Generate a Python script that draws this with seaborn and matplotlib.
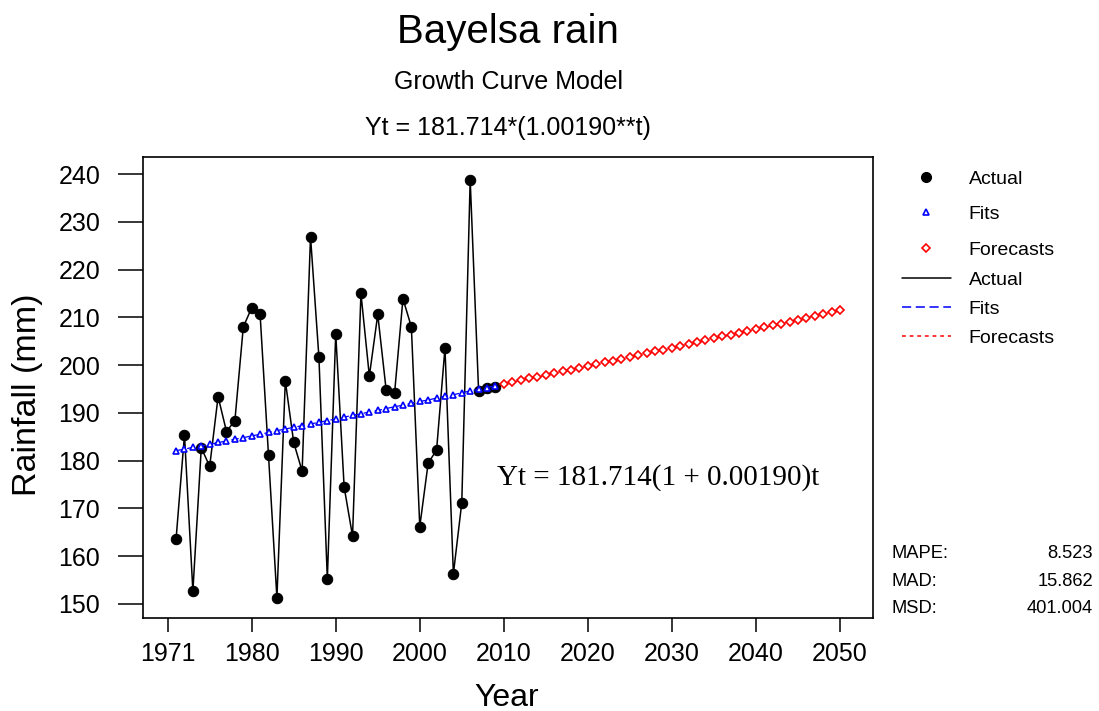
import numpy as np
import pandas as pd
import seaborn as sns
import matplotlib.pyplot as plt
from matplotlib.lines import Line2D

# rainfall (mm), t = 1..39
actual = [163.6, 185.4, 152.7, 182.7, 178.8, 193.4, 186.1, 188.4, 208.0, 212.0,
          210.6, 181.1, 151.3, 196.7, 183.8, 177.8, 226.9, 201.6, 155.2, 206.6,
          174.5, 164.2, 215.0, 197.7, 210.6, 194.8, 194.1, 213.9, 208.0, 166.2,
          179.5, 182.2, 203.6, 156.3, 171.2, 238.8, 194.6, 195.2, 195.4]

# fitted growth curve values, t = 1..39
fits = [182.1, 182.4, 182.8, 183.1, 183.4, 183.8, 184.1, 184.5, 184.8, 185.2,
        185.5, 185.9, 186.3, 186.6, 187.0, 187.3, 187.7, 188.0, 188.4, 188.7,
        189.1, 189.5, 189.8, 190.2, 190.5, 190.9, 191.3, 191.6, 192.0, 192.4,
        192.7, 193.1, 193.5, 193.8, 194.2, 194.6, 194.9, 195.3, 195.7]

# forecasts, t = 40..80
forecasts = [196.0, 196.4, 196.8, 197.2, 197.5, 197.9, 198.3, 198.7, 199.0, 199.4,
             199.8, 200.2, 200.6, 200.9, 201.3, 201.7, 202.1, 202.5, 202.9, 203.2,
             203.6, 204.0, 204.4, 204.8, 205.2, 205.6, 206.0, 206.4, 206.8, 207.1,
             207.5, 207.9, 208.3, 208.7, 209.1, 209.5, 209.9, 210.3, 210.7, 211.1,
             211.5]

tick_pos = [0, 10, 20, 30, 40, 50, 60, 70, 80]
tick_labels = ['1971', '1980', '1990', '2000', '2010', '2020', '2030', '2040', '2050']
y_ticks = [150, 160, 170, 180, 190, 200, 210, 220, 230, 240]

stats_names = ['MAPE:', 'MAD:', 'MSD:']
stats_values = ['8.523', '15.862', '401.004']

df_act = pd.DataFrame({'t': np.arange(1, len(actual) + 1), 'y': actual})
df_fit = pd.DataFrame({'t': np.arange(1, len(fits) + 1), 'y': fits})
df_fc = pd.DataFrame({'t': np.arange(len(fits) + 1, len(fits) + 1 + len(forecasts)), 'y': forecasts})

sns.set_style('white')
plt.rcParams['font.family'] = ['Liberation Sans', 'DejaVu Sans']
plt.rcParams['text.color'] = 'black'
plt.rcParams['axes.labelcolor'] = 'black'
plt.rcParams['xtick.color'] = 'black'
plt.rcParams['ytick.color'] = 'black'

W, H = 1099, 711
fig = plt.figure(figsize=(W / 100, H / 100), dpi=100)
ax = fig.add_axes([143.3 / W, 1 - 618.3 / H, (872.7 - 143.3) / W, (618.3 - 157.3) / H])

# actual series
sns.lineplot(data=df_act, x='t', y='y', ax=ax, color='black', linewidth=1.1,
             marker='o', markersize=7.5, markeredgecolor='black', zorder=3)
# fits
sns.lineplot(data=df_fit, x='t', y='y', ax=ax, color='blue', linewidth=0.9,
             linestyle=(0, (6, 3)), marker='^', markersize=5, markerfacecolor='white',
             markeredgecolor='blue', markeredgewidth=1.2, zorder=4)
# forecasts
sns.lineplot(data=df_fc, x='t', y='y', ax=ax, color='red', linewidth=0.9,
             linestyle=(0, (3, 2)), marker='D', markersize=4.5, markerfacecolor='white',
             markeredgecolor='red', markeredgewidth=1.2, zorder=4)

ax.set_xlim(-2.9, 83.9)
ax.set_ylim(147.0, 243.5)
ax.set_xticks(tick_pos)
ax.set_xticklabels(tick_labels)
ax.set_yticks(y_ticks)
ax.set_xlabel('')
ax.set_ylabel('')
for s in ax.spines.values():
    s.set_color('black')
    s.set_linewidth(1.2)
ax.tick_params(axis='x', direction='out', length=10, width=1.1, pad=7,
               labelsize=18, bottom=True)
ax.tick_params(axis='y', direction='out', length=18, width=1.1, pad=13,
               labelsize=18, left=True)

# titles
fig.text(508 / W, 1 - 42.7 / H, 'Bayelsa rain', ha='center', va='baseline', fontsize=29)
fig.text(508 / W, 1 - 89.3 / H, 'Growth Curve Model', ha='center', va='baseline', fontsize=18)
fig.text(508 / W, 1 - 135 / H, 'Yt = 181.714*(1.00190**t)', ha='center', va='baseline', fontsize=18)

fig.text(28 / W, 1 - 395 / H, 'Rainfall (mm)', rotation=90, ha='center', va='center', fontsize=24.5)
fig.text(507 / W, 1 - 706 / H, 'Year', ha='center', va='baseline', fontsize=23)

fig.text(497 / W, 1 - 478 / H, 'Yt = 181.714(1 + 0.00190)t', ha='left', va='center',
         fontsize=21, family=['Liberation Serif', 'DejaVu Serif'])

# legend: symbols then connect lines
sym_handles = [
    Line2D([], [], linestyle='none', marker='o', markersize=7, color='black'),
    Line2D([], [], linestyle='none', marker='^', markersize=5, markerfacecolor='white',
           markeredgecolor='blue', markeredgewidth=1.2),
    Line2D([], [], linestyle='none', marker='D', markersize=4.5, markerfacecolor='white',
           markeredgecolor='red', markeredgewidth=1.2),
]
line_handles = [
    Line2D([], [], color='black', linewidth=1.1),
    Line2D([], [], color='blue', linewidth=1.1, linestyle=(0, (6, 3))),
    Line2D([], [], color='red', linewidth=1.1, linestyle=(0, (2.5, 2.5))),
]
names = ['Actual', 'Fits', 'Forecasts']
leg_kw = dict(loc='upper left', frameon=False, fontsize=14, handlelength=2.5,
              handletextpad=0.93, borderpad=0, borderaxespad=0)
fig.legend(sym_handles, names, bbox_to_anchor=(902 / W, 1 - 170 / H),
           labelspacing=0.92, **leg_kw)
fig.legend(line_handles, names, bbox_to_anchor=(902 / W, 1 - 271 / H),
           labelspacing=0.6, **leg_kw)

# accuracy measures
for i, (n, v) in enumerate(zip(stats_names, stats_values)):
    yy = 1 - (554 + i * 27.2) / H
    fig.text(891.7 / W, yy, n, ha='left', va='center', fontsize=13.2)
    fig.text(1093 / W, yy, v, ha='right', va='center', fontsize=13.2)

fig.savefig('out.png', dpi=100, facecolor='white')
